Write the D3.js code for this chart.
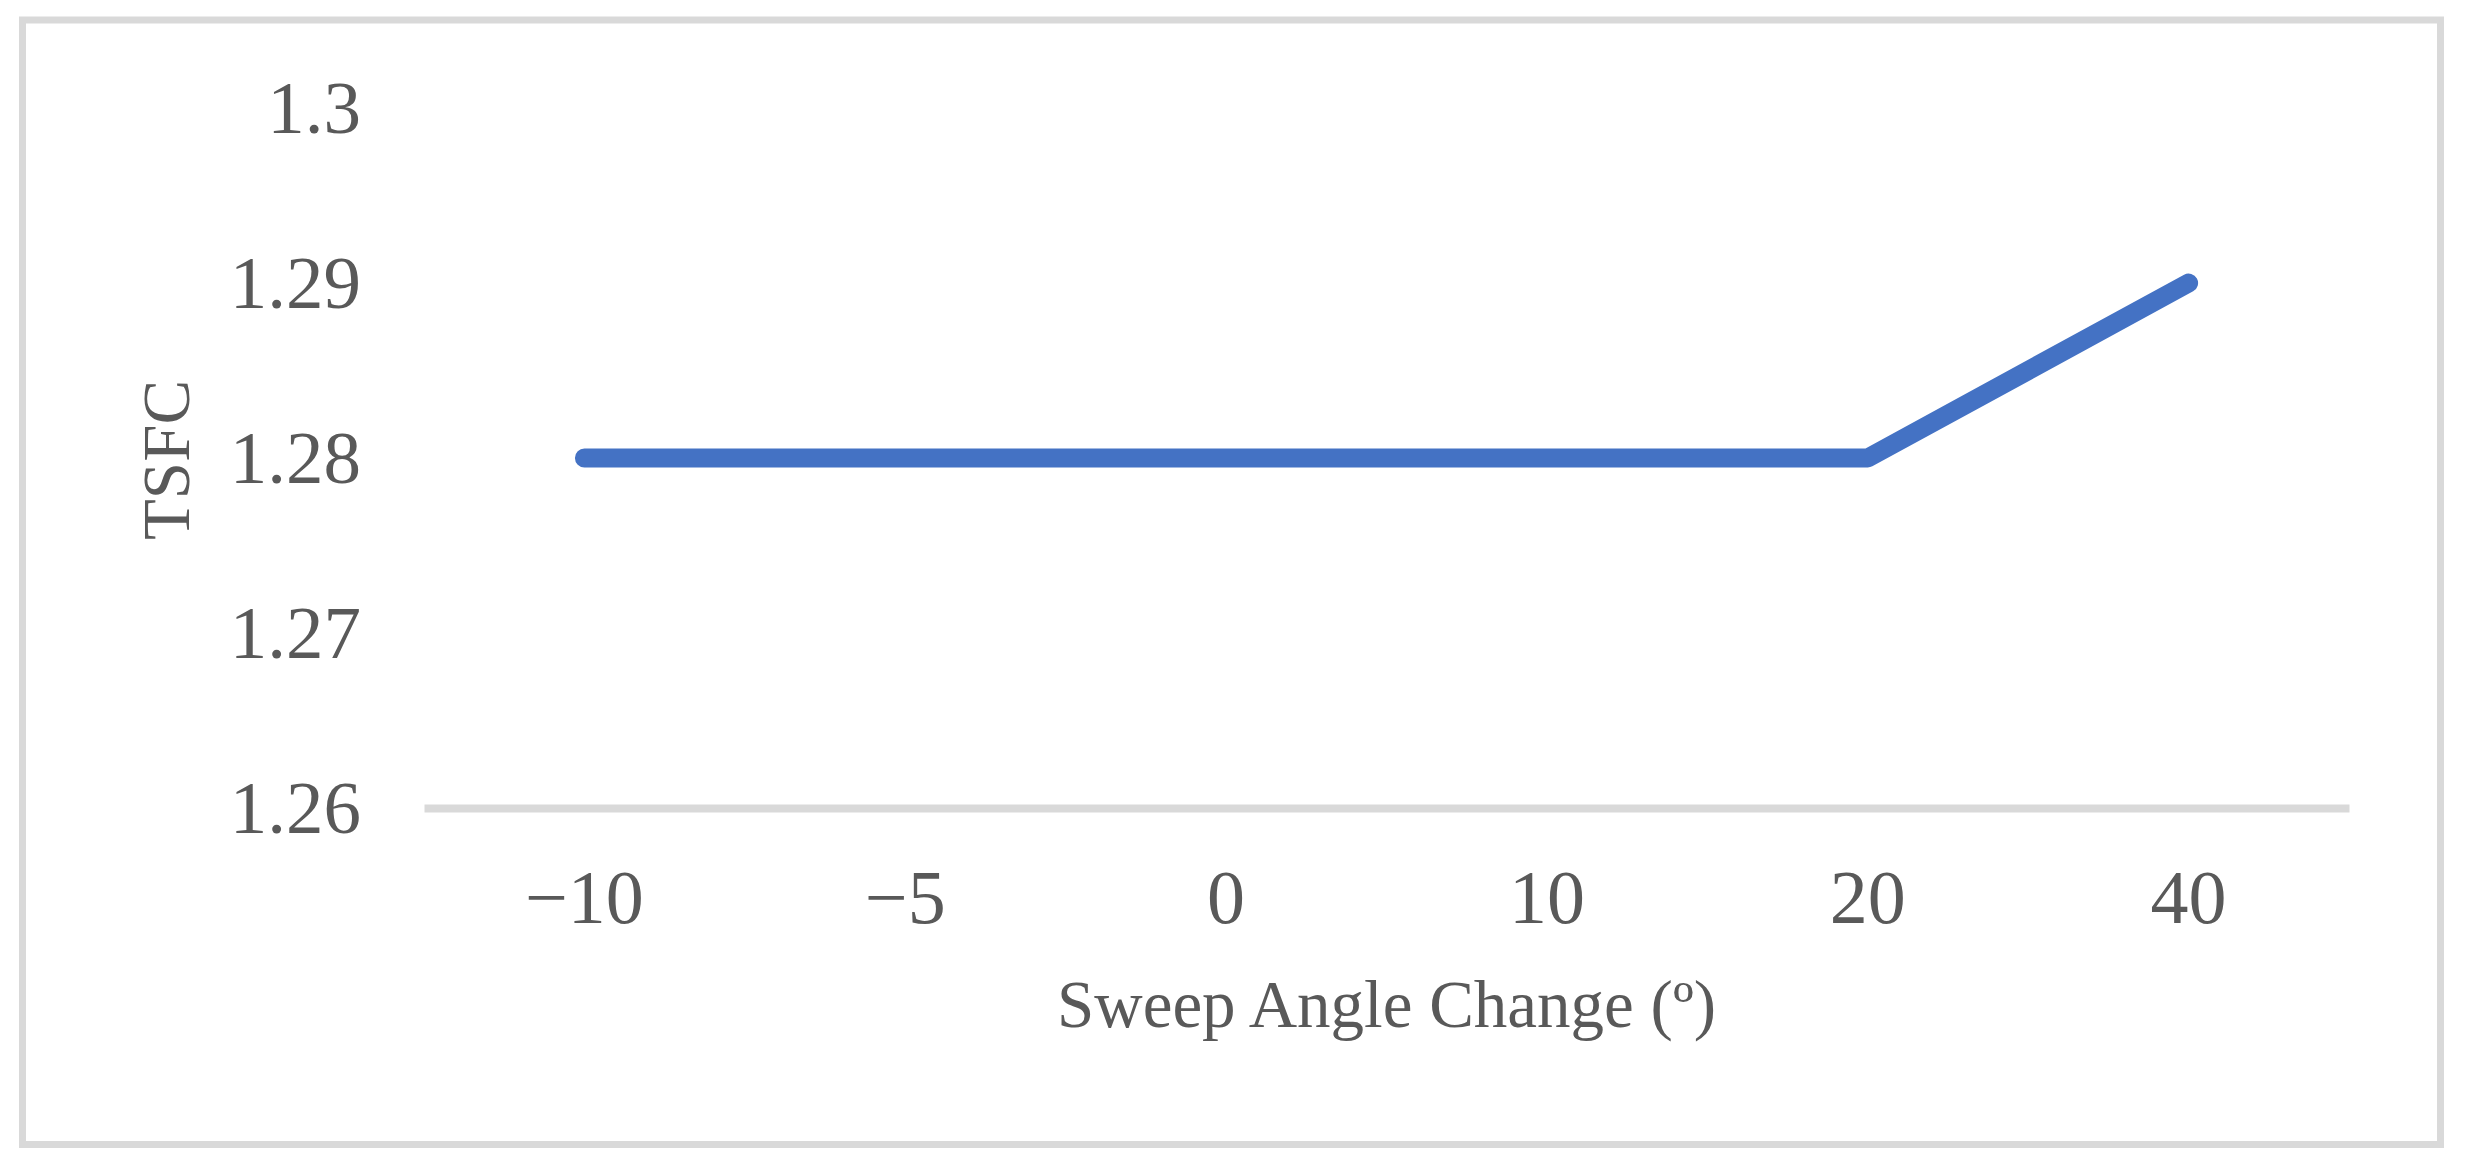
<!DOCTYPE html>
<html>
<head>
<meta charset="utf-8">
<script src="https://cdn.jsdelivr.net/npm/d3@7"></script>
<style>
  html, body { margin: 0; padding: 0; background: #fff; }
  svg { display: block; font-family: "Liberation Serif", "Times New Roman", serif; }
</style>
</head>
<body>
<div id="chart"></div>
<script>
// sweep angle change categories and TSFC values
const categories = ['−10', '−5', '0', '10', '20', '40'];
const tsfc = [1.28, 1.28, 1.28, 1.28, 1.28, 1.29];
const yTicks = [1.26, 1.27, 1.28, 1.29, 1.3];

const width = 2466, height = 1170;
const margin = { top: 108, right: 117, bottom: 362, left: 424 };
const innerW = width - margin.left - margin.right;
const innerH = height - margin.top - margin.bottom;

const textColor = '#595959';
const gridColor = '#d9d9d9';

const svg = d3.select('#chart').append('svg')
    .attr('width', width)
    .attr('height', height);

svg.append('rect')
    .attr('width', width).attr('height', height)
    .attr('fill', '#fff');

// outer frame
svg.append('rect')
    .attr('x', 22.5).attr('y', 20)
    .attr('width', 2418).attr('height', 1124.5)
    .attr('fill', 'none')
    .attr('stroke', gridColor)
    .attr('stroke-width', 7);

const g = svg.append('g')
    .attr('transform', `translate(${margin.left},${margin.top})`);

const x = d3.scaleBand()
    .domain(categories)
    .range([0, innerW]);

const y = d3.scaleLinear()
    .domain([1.26, 1.3])
    .range([innerH, 0]);

// y axis: labels only
const yAxis = g.append('g')
    .call(d3.axisLeft(y).tickValues(yTicks).tickSize(0).tickPadding(63)
        .tickFormat(d => String(+d.toFixed(2))));
yAxis.select('.domain').remove();
yAxis.selectAll('text')
    .attr('fill', textColor)
    .attr('font-size', '75px')
    .attr('font-family', '"Liberation Serif", serif');

// x axis
const xAxis = g.append('g')
    .attr('transform', `translate(0,${innerH})`)
    .call(d3.axisBottom(x).tickSize(0).tickSizeOuter(0).tickPadding(61));
xAxis.select('.domain')
    .attr('stroke', gridColor)
    .attr('stroke-width', 8);
xAxis.selectAll('text')
    .attr('fill', textColor)
    .attr('font-size', '76px')
    .attr('font-family', '"Liberation Serif", serif');

// data line
const line = d3.line()
    .x((d, i) => x(categories[i]) + x.bandwidth() / 2)
    .y(d => y(d));

g.append('path')
    .datum(tsfc)
    .attr('d', line)
    .attr('fill', 'none')
    .attr('stroke', '#4472c4')
    .attr('stroke-width', 19)
    .attr('stroke-linecap', 'round')
    .attr('stroke-linejoin', 'round');

// axis titles
svg.append('text')
    .attr('x', margin.left + innerW / 2)
    .attr('y', 1027)
    .attr('text-anchor', 'middle')
    .attr('fill', textColor)
    .attr('font-size', '67px')
    .text('Sweep Angle Change (º)');

svg.append('text')
    .attr('transform', `translate(166,${margin.top + innerH / 2 + 2}) rotate(-90)`)
    .attr('dy', '0.35em')
    .attr('text-anchor', 'middle')
    .attr('fill', textColor)
    .attr('font-size', '67px')
    .text('TSFC');
</script>
</body>
</html>
